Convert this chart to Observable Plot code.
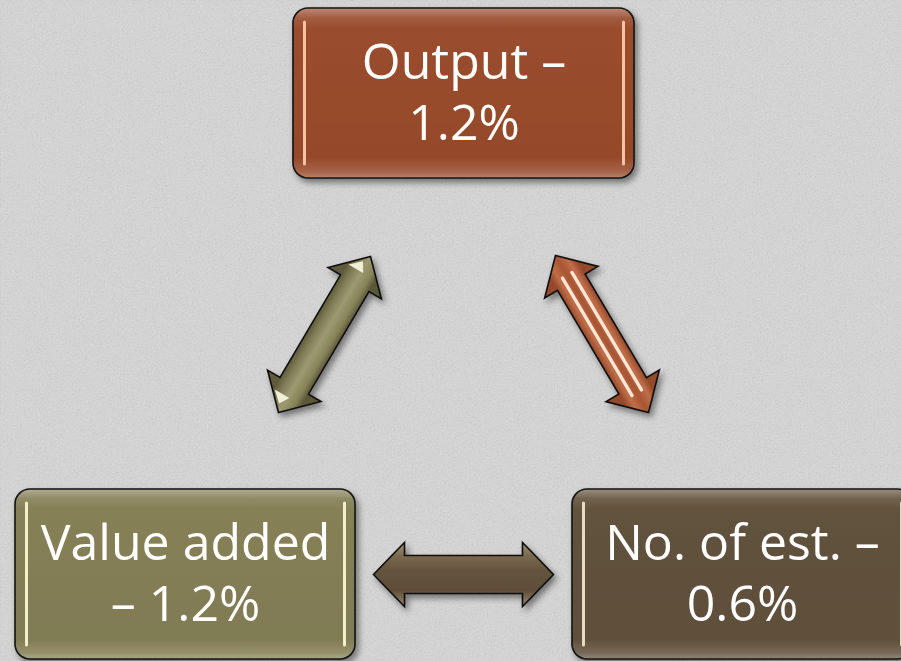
<!DOCTYPE html>
<html>
<head>
<meta charset="utf-8">
<script src="https://cdn.jsdelivr.net/npm/d3@7"></script>
<script src="https://cdn.jsdelivr.net/npm/@observablehq/plot@0.6"></script>
<style>
  html, body { margin: 0; padding: 0; background: #d4d4d4; overflow: hidden; }
  #chart svg { display: block; overflow: hidden; }
</style>
</head>
<body>
<div id="chart"></div>
<script>
// ---------- data ----------
const indicators = ["Output", "Value added", "No. of est."];
const growth = [1.2, 1.2, 0.6];              // % change
const dashOnFirstLine = [true, false, true]; // where the dash is placed in the label
const links = [["Value added", "Output"], ["Output", "No. of est."], ["Value added", "No. of est."]];

// ---------- layout (positions / sizes, in pixel units of the identity scales) ----------
const W = 901, H = 661;
const boxLayout = {
  "Output":      {x1: 293, x2: 634, y1: 8,   y2: 178},
  "Value added": {x1: 15,  x2: 355, y1: 489, y2: 659},
  "No. of est.": {x1: 572, x2: 912, y1: 489, y2: 659}
};
const arrowLayout = [
  {a: [278, 412], b: [370, 256], shaft: 16.5, head: 31, headLen: 31},
  {a: [555, 255], b: [648, 412], shaft: 16, head: 31, headLen: 31},
  {a: [373, 574], b: [553, 574], shaft: 19, head: 32, headLen: 31}
];

// ---------- styles ----------
const boxColor = {"Output": "#9a4d2d", "Value added": "#858056", "No. of est.": "#62523d"};
const stripeColor = {"Output": "#f6c2a2", "Value added": "#f3efc8", "No. of est.": "#e9dac3"};
const arrowStops = [
  [[0, "#5e5a3a"], [0.22, "#7f7b55"], [0.5, "#9d9971"], [0.8, "#878359"], [1, "#5a5637"]],
  [[0, "#94482a"], [0.22, "#c06e48"], [0.5, "#a85533"], [0.78, "#c06e48"], [1, "#94482a"]],
  [[0, "#a49376"], [0.2, "#7b6a50"], [0.45, "#63533d"], [0.75, "#5e4e39"], [1, "#9c8b6f"]]
];

// ---------- derived tables ----------
const nodes = indicators.map((name, i) => {
  const L = boxLayout[name];
  return {
    name, value: growth[i],
    label: dashOnFirstLine[i] ? `${name} –\n${growth[i]}%` : `${name}\n– ${growth[i]}%`,
    ...L, cx: (L.x1 + L.x2) / 2, cy: (L.y1 + L.y2) / 2,
    fill: `url(#box${i})`
  };
});

function geom(g) {
  const [ax, ay] = g.a, [bx, by] = g.b;
  const len = Math.hypot(bx - ax, by - ay);
  const ux = (bx - ax) / len, uy = (by - ay) / len;
  const nx = -uy, ny = ux;
  return {ax, ay, bx, by, len, ux, uy, nx, ny};
}
function arrowPolygon(g, i) {
  const {ax, ay, bx, by, ux, uy, nx, ny} = geom(g);
  const fill = `url(#arrow${i})`;
  const p = (x, y) => ({x, y, id: i, fill});
  const A = (t, s) => p(ax + t * ux + s * nx, ay + t * uy + s * ny);
  const B = (t, s) => p(bx - t * ux + s * nx, by - t * uy + s * ny);
  return [
    p(ax, ay), A(g.headLen, g.head), A(g.headLen, g.shaft), B(g.headLen, g.shaft),
    B(g.headLen, g.head), p(bx, by), B(g.headLen, -g.head), B(g.headLen, -g.shaft),
    A(g.headLen, -g.shaft), A(g.headLen, -g.head)
  ];
}
const arrowPolys = arrowLayout.map((g, i) => arrowPolygon(g, i)).flat();

// copper arrow light stripes along the shaft
const stripes = [-5.5, 5.5].map(off => {
  const {ax, ay, bx, by, ux, uy, nx, ny} = geom(arrowLayout[1]);
  const t0 = arrowLayout[1].headLen - 8, t1 = arrowLayout[1].headLen - 8;
  return {
    x1: ax + t0 * ux + off * nx, y1: ay + t0 * uy + off * ny,
    x2: bx - t1 * ux + off * nx, y2: by - t1 * uy + off * ny
  };
});

// olive arrow specular highlights near the tips
const oliveHi = (() => {
  const g = arrowLayout[0];
  const {ax, ay, bx, by, ux, uy, nx, ny} = geom(g);
  const tri = (px, py, dir, id) => {
    const q = (t, s) => ({x: px + dir * t * ux + s * nx, y: py + dir * t * uy + s * ny, id});
    return [q(8, -4), q(18, -15), q(18, 2)];
  };
  return [...tri(ax, ay, 1, "a"), ...tri(bx, by, -1, "b")];
})();

// render helper: set attributes (filters, opacity) on a mark's group
const withAttrs = (attrs) => ({
  render(index, scales, values, dimensions, context, next) {
    const g = next(index, scales, values, dimensions, context);
    for (const k in attrs) g.setAttribute(k, attrs[k]);
    return g;
  }
});

// ---------- plot ----------
const svg = Plot.plot({
  width: W, height: H,
  margin: 0,
  x: {domain: [0, W], range: [0, W], axis: null},
  y: {domain: [0, H], range: [0, H], axis: null},
  color: {type: "identity"},
  style: {background: "#d4d4d4"},
  marks: [
    Plot.frame({fill: "#d9d9d9"}),
    Plot.frame({fill: "#ffffff", ...withAttrs({opacity: 0.2, filter: "url(#noise)"})}),
    // boxes
    Plot.rect(nodes, {x1: "x1", x2: "x2", y1: "y1", y2: "y2", fill: "fill", rx: 15, ry: 15,
      stroke: "#141414", strokeWidth: 1.6, ...withAttrs({filter: "url(#shadow)"})}),
    Plot.ruleX(nodes, {x: d => d.x1 + 11, y1: d => d.y1 + 14, y2: d => d.y2 - 14,
      stroke: d => stripeColor[d.name], strokeWidth: 3, strokeLinecap: "round"}),
    Plot.ruleX(nodes, {x: d => d.x2 - 11, y1: d => d.y1 + 14, y2: d => d.y2 - 14,
      stroke: d => stripeColor[d.name], strokeWidth: 3, strokeLinecap: "round"}),
    // arrows
    Plot.line(arrowPolys, {x: "x", y: "y", z: "id", fill: "fill", curve: "linear-closed",
      stroke: "#111", strokeWidth: 1.6, strokeLinejoin: "miter", strokeMiterlimit: 4,
      ...withAttrs({filter: "url(#shadow)"})}),
    Plot.link(stripes, {x1: "x1", y1: "y1", x2: "x2", y2: "y2", stroke: "#fde6d6", strokeWidth: 3.4, strokeLinecap: "round"}),
    Plot.line(oliveHi, {x: "x", y: "y", z: "id", curve: "linear-closed", fill: "#f7f4dc", fillOpacity: 0.95}),
    // labels
    Plot.text(nodes, {x: "cx", y: "cy", dy: -4, text: "label", fill: "white", fontSize: 50,
      fontFamily: "'Open Sans', 'DejaVu Sans', sans-serif", lineHeight: 1.22, lineAnchor: "middle"})
  ]
});

// ---------- gradients, filters ----------
const s = d3.select(svg);
const defs = s.insert("defs", ":first-child");
nodes.forEach((n, i) => {
  const base = d3.color(boxColor[n.name]);
  const lg = defs.append("linearGradient").attr("id", `box${i}`).attr("x1", 0).attr("y1", 0).attr("x2", 0).attr("y2", 1);
  const rim = d3.interpolateRgb(base, "#ffffff");
  [[0, rim(0.35)], [0.06, rim(0.08)], [0.12, base.formatHex()], [0.88, d3.interpolateRgb(base, "#000")(0.04)], [0.96, rim(0.12)], [1, rim(0.3)]]
    .forEach(([o, c]) => lg.append("stop").attr("offset", o).attr("stop-color", c));
});
arrowLayout.forEach((g, i) => {
  const {ax, ay, bx, by, nx, ny} = geom(g);
  const mx = (ax + bx) / 2, my = (ay + by) / 2;
  const r = i === 2 ? g.head : g.shaft;
  const lg = defs.append("linearGradient").attr("id", `arrow${i}`).attr("gradientUnits", "userSpaceOnUse")
    .attr("x1", mx - r * nx).attr("y1", my - r * ny).attr("x2", mx + r * nx).attr("y2", my + r * ny);
  arrowStops[i].forEach(([o, c]) => lg.append("stop").attr("offset", o).attr("stop-color", c));
});
const noise = defs.append("filter").attr("id", "noise").attr("x", 0).attr("y", 0).attr("width", "100%").attr("height", "100%");
noise.append("feTurbulence").attr("type", "fractalNoise").attr("baseFrequency", 0.6).attr("numOctaves", 2).attr("seed", 7);
noise.append("feColorMatrix").attr("type", "matrix")
  .attr("values", "0.33 0.33 0.33 0 0  0.33 0.33 0.33 0 0  0.33 0.33 0.33 0 0  0 0 0 0 1");
const shadow = defs.append("filter").attr("id", "shadow").attr("x", "-10%").attr("y", "-10%").attr("width", "130%").attr("height", "130%");
shadow.append("feDropShadow").attr("dx", 3).attr("dy", 4).attr("stdDeviation", 3).attr("flood-color", "#000").attr("flood-opacity", 0.45);

document.getElementById("chart").append(svg);
</script>
</body>
</html>
